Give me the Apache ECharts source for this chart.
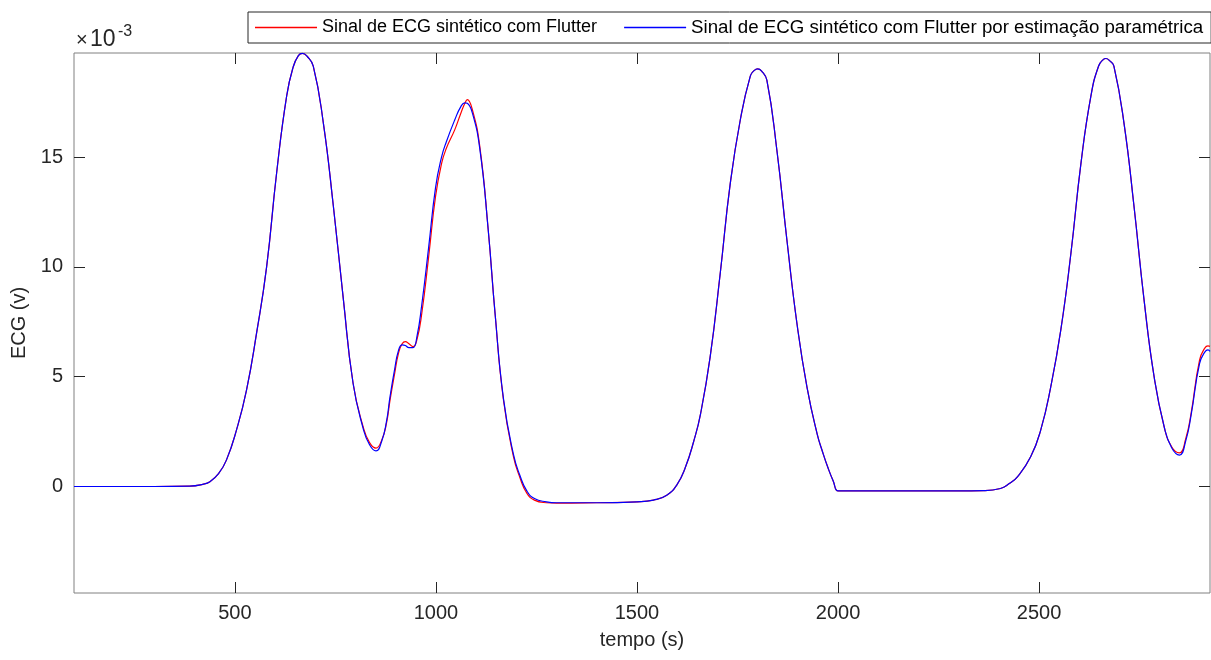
<!DOCTYPE html>
<html>
<head>
<meta charset="utf-8">
<script src="https://cdn.jsdelivr.net/npm/echarts@6/dist/echarts.min.js"></script>
<style>
html,body{margin:0;padding:0;background:#fff;}
#main{width:1211px;height:660px;}
</style>
</head>
<body>
<div id="main"></div>
<script>
// time samples (s)
var tempo = [100,200,300,388,420,438,460,479,504,529,554,579,604,629,645,658,668,680,695,720,745,770,794,819,835,851,865,877,886,897,907,916,924,933,943,953,965,982,999,1014,1026,1047,1062,1072,1078,1090,1109,1130,1147,1168,1193,1209,1226,1245,1275,1300,1400,1500,1541,1574,1600,1620,1641,1658,1682,1707,1732,1757,1782,1792,1800,1810,1823,1848,1873,1898,1923,1948,1962,1975,1988,2000,2015,2100,2200,2300,2362,2404,2425,2446,2479,2504,2529,2554,2579,2604,2629,2648,2660,2666,2676,2686,2711,2736,2761,2786,2811,2830,2849,2865,2878,2899,2912,2920,2925];
// ECG values, x 10^-3 V
var ecgFlutter = [0,0,0,0.02,0.1,0.22,0.6,1.2,2.57,4.39,6.98,10.0,14.3,17.8,19.1,19.62,19.72,19.58,19.14,16.56,12.76,8.5,4.7,2.72,2.0,1.75,2.1,2.87,3.94,5.1,6.07,6.5,6.6,6.5,6.37,6.7,7.9,10.47,13.2,14.7,15.4,16.25,17.0,17.45,17.62,17.2,15.5,11.7,7.9,3.94,1.35,0.4,-0.3,-0.62,-0.74,-0.76,-0.74,-0.70,-0.62,-0.4,0.1,0.85,2.05,3.3,5.9,9.7,13.8,16.7,18.7,18.95,19.02,18.92,18.5,15.3,11.2,7.4,4.5,2.4,1.55,0.85,0.25,-0.2,-0.2,-0.2,-0.2,-0.2,-0.19,-0.09,0.12,0.44,1.35,2.57,4.54,7.13,10.6,14.7,17.8,19.15,19.45,19.49,19.38,19.14,16.56,12.76,8.5,5.0,2.72,1.8,1.53,2.2,3.33,5.76,6.3,6.4,6.38];
var ecgParam = [0,0,0,0.02,0.1,0.22,0.6,1.2,2.57,4.39,6.98,10.0,14.3,17.8,19.1,19.62,19.72,19.58,19.14,16.56,12.76,8.5,4.7,2.65,1.9,1.62,2.05,2.95,4.1,5.3,6.2,6.45,6.42,6.32,6.32,6.85,8.3,10.9,13.6,15.0,15.7,16.7,17.3,17.47,17.45,17.05,15.4,11.7,7.9,4.0,1.45,0.5,-0.2,-0.55,-0.7,-0.74,-0.74,-0.70,-0.62,-0.4,0.1,0.85,2.05,3.3,5.9,9.7,13.8,16.7,18.7,18.95,19.02,18.92,18.5,15.3,11.2,7.4,4.5,2.4,1.55,0.85,0.25,-0.2,-0.2,-0.2,-0.2,-0.2,-0.19,-0.09,0.12,0.44,1.35,2.57,4.54,7.13,10.6,14.7,17.8,19.15,19.45,19.49,19.38,19.14,16.56,12.76,8.5,5.0,2.72,1.75,1.43,2.1,3.25,5.6,6.12,6.22,6.15];
var xTicks = [500,1000,1500,2000,2500];
var yTicks = [0,5,10,15];
var seriesNames = ['Sinal de ECG sintético com Flutter','Sinal de ECG sintético com Flutter por estimação paramétrica'];

function pairs(xs, ys){ var out=[]; for(var i=0;i<xs.length;i++){ out.push([xs[i], ys[i]]); } return out; }

var FONT = '"Liberation Sans", Arial, Helvetica, sans-serif';
var chart = echarts.init(document.getElementById('main'), null, {renderer:'canvas'});
var tickStyle = {show:true, inside:true, length:11, lineStyle:{color:'#262626', width:1}};
var plain = function(v){ return String(v); };
chart.setOption({
  animation:false,
  backgroundColor:'#ffffff',
  grid:{left:74, right:1, top:53, bottom:67, show:true, borderColor:'#808080', borderWidth:1, backgroundColor:'transparent'},
  legend:{
    left:248, top:12, width:1100, orient:'horizontal',
    data:[
      {name:seriesNames[0], icon:'rect'},
      {name:seriesNames[1], icon:'rect', textStyle:{fontSize:18.7}}
    ],
    itemWidth:62, itemHeight:1.3, itemGap:27,
    padding:[6,8,6,7],
    borderColor:'#262626', borderWidth:1, backgroundColor:'#fff',
    textStyle:{fontFamily:FONT, fontSize:18, color:'#000'}
  },
  xAxis:[{
    type:'value', min:100, max:2925, position:'bottom',
    name:'tempo (s)', nameLocation:'middle', nameGap:37,
    nameTextStyle:{fontFamily:FONT, fontSize:20, color:'#262626'},
    axisLine:{show:false, onZero:false}, splitLine:{show:false},
    axisTick:Object.assign({customValues:xTicks}, tickStyle),
    axisLabel:{customValues:xTicks, formatter:plain, margin:10, fontFamily:FONT, fontSize:20, color:'#262626'}
  },{
    type:'value', min:100, max:2925, position:'top',
    axisLine:{show:false, onZero:false}, splitLine:{show:false},
    axisTick:Object.assign({customValues:xTicks}, tickStyle),
    axisLabel:{show:false}
  }],
  yAxis:[{
    type:'value', min:-4.85, max:19.74, position:'left',
    name:'ECG (v)', nameLocation:'middle', nameGap:45, nameRotate:90,
    nameTextStyle:{fontFamily:FONT, fontSize:20, color:'#262626'},
    axisLine:{show:false, onZero:false}, splitLine:{show:false},
    axisTick:Object.assign({customValues:yTicks}, tickStyle),
    axisLabel:{customValues:yTicks, formatter:plain, margin:11, fontFamily:FONT, fontSize:20, color:'#262626'}
  },{
    type:'value', min:-4.85, max:19.74, position:'right',
    axisLine:{show:false, onZero:false}, splitLine:{show:false},
    axisTick:Object.assign({customValues:yTicks}, tickStyle),
    axisLabel:{show:false}
  }],
  graphic:[
    {type:'text', left:76, top:30, style:{text:'×', fontFamily:FONT, fontSize:20, fill:'#262626'}},
    {type:'text', left:90, top:28, style:{text:'10', fontFamily:FONT, fontSize:23, fill:'#262626'}},
    {type:'text', left:118, top:24, style:{text:'-3', fontFamily:FONT, fontSize:16, fill:'#262626'}}
  ],
  series:[{
    name:seriesNames[0], type:'line', xAxisIndex:0, yAxisIndex:0,
    data:pairs(tempo, ecgFlutter), smooth:0.5, symbol:'none', showSymbol:false,
    color:'#ff0000', lineStyle:{color:'#ff0000', width:1.2}, z:2
  },{
    name:seriesNames[1], type:'line', xAxisIndex:0, yAxisIndex:0,
    data:pairs(tempo, ecgParam), smooth:0.5, symbol:'none', showSymbol:false,
    color:'#0000ff', lineStyle:{color:'#0000ff', width:1.2}, z:3
  }]
});
</script>
</body>
</html>
